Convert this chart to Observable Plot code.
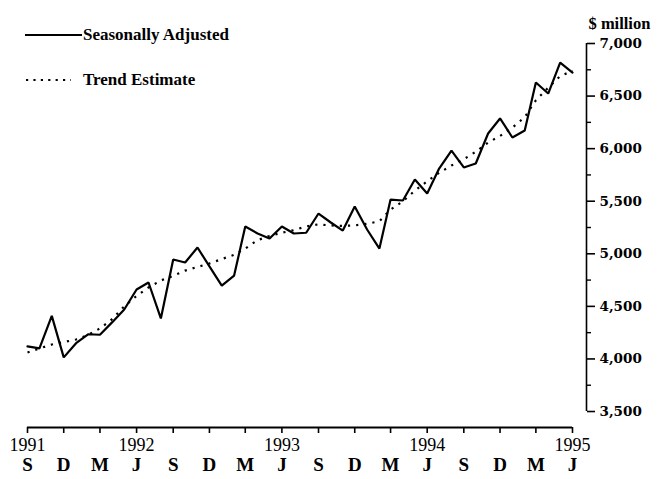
<!DOCTYPE html>
<html>
<head>
<meta charset="utf-8">
<script src="https://cdn.jsdelivr.net/npm/d3@7"></script>
<script src="https://cdn.jsdelivr.net/npm/@observablehq/plot@0.6"></script>
<style>
  html, body { margin: 0; padding: 0; background: #fff; }
  #wrap { position: relative; width: 660px; height: 479px; overflow: hidden; }
  .leg { position: absolute; left: 25px; height: 20px; display: flex; align-items: center;
         font: bold 17px "Liberation Serif", serif; color: #000; white-space: nowrap; }
  .leg svg { display: block; }
</style>
</head>
<body>
<div id="wrap">
  <div class="leg" style="top:25px">
    <svg width="57" height="4"><line x1="0" x2="57" y1="2" y2="2" stroke="#000" stroke-width="2"/></svg>
    <span style="margin-left:1px">Seasonally Adjusted</span>
  </div>
  <div class="leg" style="top:70px">
    <svg width="46" height="4"><line x1="1" x2="46" y1="2" y2="2" stroke="#000" stroke-width="2.2" stroke-dasharray="2.2 5.2"/></svg>
    <span style="margin-left:12px">Trend Estimate</span>
  </div>
</div>
<script>
const months = [
  "1991-09","1991-10","1991-11","1991-12","1992-01","1992-02","1992-03","1992-04","1992-05","1992-06",
  "1992-07","1992-08","1992-09","1992-10","1992-11","1992-12","1993-01","1993-02","1993-03","1993-04",
  "1993-05","1993-06","1993-07","1993-08","1993-09","1993-10","1993-11","1993-12","1994-01","1994-02",
  "1994-03","1994-04","1994-05","1994-06","1994-07","1994-08","1994-09","1994-10","1994-11","1994-12",
  "1995-01","1995-02","1995-03","1995-04","1995-05","1995-06"
];
const seasonallyAdjusted = [
  4120, 4100, 4410, 4015, 4150, 4235, 4230, 4350, 4470, 4660,
  4727, 4385, 4946, 4917, 5060, 4880, 4698, 4793, 5260, 5193,
  5145, 5260, 5193, 5200, 5383, 5300, 5221, 5450, 5231, 5050,
  5516, 5507, 5707, 5573, 5811, 5982, 5821, 5859, 6144, 6287,
  6106, 6172, 6629, 6524, 6819, 6724
];
const trendEstimate = [
  4061, 4100, 4137, 4160, 4185, 4230, 4290, 4380, 4500, 4600,
  4680, 4746, 4790, 4840, 4875, 4908, 4950, 4990, 5050, 5130,
  5170, 5200, 5225, 5260, 5280, 5270, 5265, 5270, 5285, 5310,
  5420, 5500, 5600, 5690, 5770, 5840, 5900, 5970, 6058, 6120,
  6200, 6300, 6460, 6580, 6690, 6740
];
const quarterTicks = [
  "1991-09","1991-12","1992-03","1992-06","1992-09","1992-12","1993-03","1993-06",
  "1993-09","1993-12","1994-03","1994-06","1994-09","1994-12","1995-03","1995-06"
];
const quarterLetters = ["S","D","M","J","S","D","M","J","S","D","M","J","S","D","M","J"];
const yearTickMonths = ["1991-09","1992-06","1993-06","1994-06","1995-06"];
const yearLabels = ["1991","1992","1993","1994","1995"];
const yTicks = [3500, 4000, 4500, 5000, 5500, 6000, 6500, 7000];
const yMinorTicks = [3750, 4250, 4750, 5250, 5750, 6250, 6750];
const yUnit = "$ million";

const parse = d3.utcParse("%Y-%m");
const saData = months.map((m, i) => ({date: parse(m), value: seasonallyAdjusted[i]}));
const trData = months.map((m, i) => ({date: parse(m), value: trendEstimate[i]}));
const qDates = quarterTicks.map(parse);
const yearDates = yearTickMonths.map(parse);
const lastDate = parse(months[months.length - 1]);
const fmt = d3.format(",");
const serif = "Liberation Serif";

const chart = Plot.plot({
  width: 660,
  height: 479,
  marginLeft: 27,
  marginRight: 88,
  marginTop: 43,
  marginBottom: 52,
  x: {type: "utc", domain: [parse(months[0]), lastDate], axis: null, label: null},
  y: {domain: [3348, 7000], axis: null, label: null},
  style: {fontFamily: serif, background: "white", color: "black", overflow: "visible"},
  marks: [
    // x baseline and quarter ticks
    Plot.ruleY([3348], {stroke: "black", strokeWidth: 2}),
    Plot.axisX(qDates, {anchor: "bottom", tickSize: 6, strokeWidth: 1.6, tickFormat: () => "", label: null}),
    Plot.text(yearDates, {x: d => d, text: (d, i) => yearLabels[i], frameAnchor: "bottom",
      dy: 23, fontSize: 18, fontFamily: serif, fill: "black"}),
    Plot.text(qDates, {x: d => d, text: (d, i) => quarterLetters[i], frameAnchor: "bottom",
      dy: 43, fontSize: 19, fontWeight: "bold", fontFamily: serif, fill: "black"}),
    // y axis on the right
    Plot.ruleX([lastDate], {y1: 3500, y2: 7000, dx: 14, stroke: "black", strokeWidth: 1.6}),
    Plot.axisY(yTicks, {anchor: "right", tickSize: 8, dx: 14, strokeWidth: 1.6, tickFormat: () => "", label: null}),
    Plot.axisY(yMinorTicks, {anchor: "right", tickSize: 4, dx: 14, strokeWidth: 1.4, tickFormat: () => "", label: null}),
    Plot.text(yTicks, {y: d => d, text: d => fmt(d), frameAnchor: "right", dx: 27, textAnchor: "start",
      fontSize: 13.5, fontWeight: "bold", fontFamily: "DejaVu Serif", fill: "black"}),
    Plot.text([yUnit], {text: d => d, frameAnchor: "top-right", dx: 16, dy: -26, textAnchor: "start",
      fontSize: 16.5, fontWeight: "bold", fontFamily: serif, fill: "black"}),
    // series
    Plot.line(trData, {x: "date", y: "value", stroke: "black", strokeWidth: 2.2,
      strokeDasharray: "2.2 6", strokeLinecap: "butt"}),
    Plot.line(saData, {x: "date", y: "value", stroke: "black", strokeWidth: 2.2, strokeLinejoin: "miter"})
  ]
});
document.getElementById("wrap").prepend(chart);
chart.style.position = "absolute";
chart.style.left = "0";
chart.style.top = "0";
</script>
</body>
</html>
